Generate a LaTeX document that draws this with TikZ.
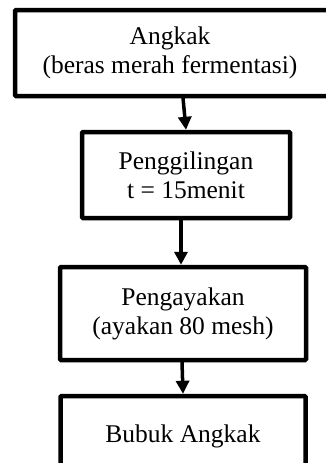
\documentclass[tikz,border=0pt]{standalone}
\usepackage{fontspec}
\setmainfont{Liberation Serif}
\usetikzlibrary{arrows.meta}
\begin{document}
\begin{tikzpicture}[x=1pt,y=-1pt,
  box/.style={draw=black,line width=4.5pt,rectangle,rounded corners=1pt,align=center,inner sep=0pt,outer sep=0pt,
    font=\fontsize{25.5}{29}\selectfont},
  arr/.style={line width=3.5pt,-{Triangle[length=13pt,width=13pt]}}]
\useasboundingbox (0,0) rectangle (326,463);
\clip (0,0) rectangle (326,463);
\node[box,minimum width=355pt,minimum height=86pt] (b1) at (192.5,53) {\hspace*{-45pt}Angkak\\\hspace*{-45pt}(beras merah fermentasi)};
\node[box,minimum width=208pt,minimum height=86pt] (b2) at (186,175) {Penggilingan\\t = 15menit};
\node[box,minimum width=246pt,minimum height=93pt] (b3) at (183,313.5) {Pengayakan\\(ayakan 80 mesh)};
\node[box,minimum width=245pt,minimum height=80pt] (b4) at (183,436) {Bubuk Angkak};
\draw[arr] ([xshift=-9.5pt,yshift=-2pt]b1.south) -- ([yshift=2.2pt]b2.north);
\draw[arr] ([xshift=-5pt,yshift=-2pt]b2.south) -- ([xshift=-2pt,yshift=2.2pt]b3.north);
\draw[arr] ([xshift=-1pt,yshift=-2pt]b3.south) -- ([yshift=2.2pt]b4.north);
\end{tikzpicture}
\end{document}
